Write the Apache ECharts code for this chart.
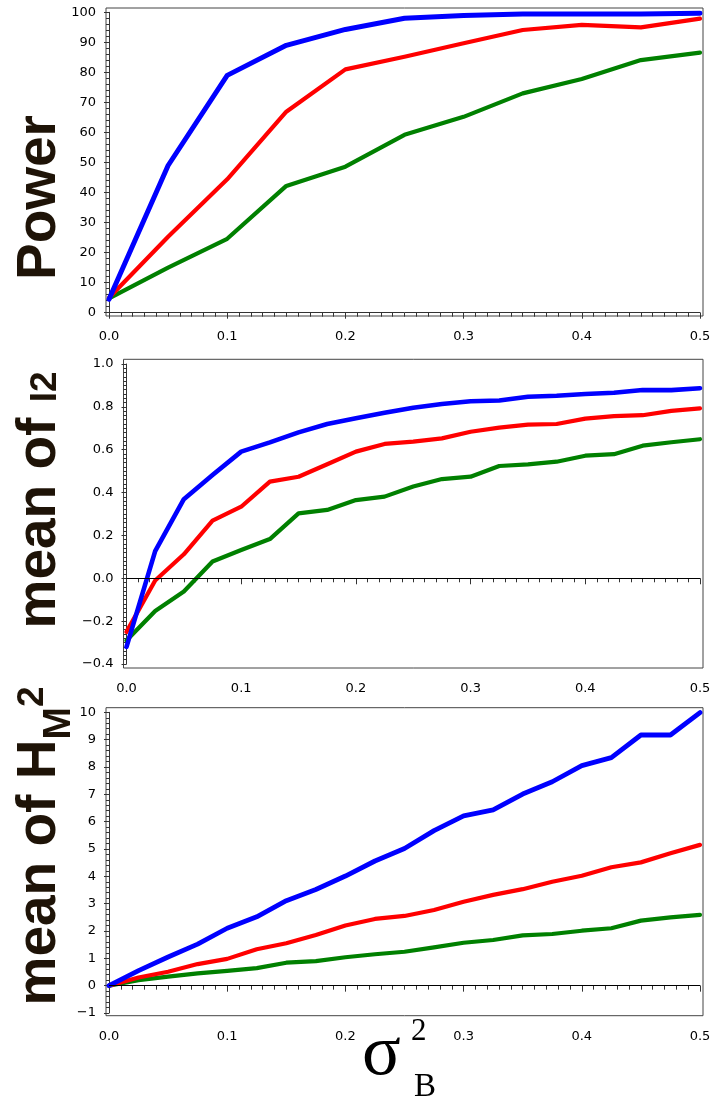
<!DOCTYPE html>
<html><head><meta charset="utf-8">
<script src="https://cdn.jsdelivr.net/npm/echarts@6/dist/echarts.min.js"></script>
<style>html,body{margin:0;padding:0;background:#fff}#c{width:716px;height:1099px}</style>
</head><body><div id="c"></div>
<script>
// ---- data ----
const xCoarse = [0, 0.05, 0.1, 0.15, 0.2, 0.25, 0.3, 0.35, 0.4, 0.45, 0.5];
const powerBlue  = [4.5, 49, 79, 89, 94.3, 98, 98.9, 99.4, 99.4, 99.4, 99.7];
const powerRed   = [5, 25.3, 44.4, 66.9, 81, 85.2, 89.7, 94.1, 95.8, 95, 97.9];
const powerGreen = [4.8, 15, 24.6, 42.2, 48.6, 59.2, 65.2, 73, 77.8, 84.1, 86.6];

const xFine = [0, 0.025, 0.05, 0.075, 0.1, 0.125, 0.15, 0.175, 0.2, 0.225, 0.25,
               0.275, 0.3, 0.325, 0.35, 0.375, 0.4, 0.425, 0.45, 0.475, 0.5];
const i2Blue  = [-0.32, 0.127, 0.369, 0.482, 0.591, 0.634, 0.681, 0.72, 0.747, 0.773, 0.796,
                 0.813, 0.826, 0.83, 0.847, 0.852, 0.86, 0.866, 0.879, 0.878, 0.887];
const i2Red   = [-0.25, -0.01, 0.112, 0.269, 0.334, 0.451, 0.474, 0.532, 0.591, 0.627, 0.638,
                 0.653, 0.684, 0.703, 0.717, 0.72, 0.745, 0.757, 0.761, 0.781, 0.793];
const i2Green = [-0.29, -0.153, -0.062, 0.078, 0.132, 0.183, 0.303, 0.319, 0.365, 0.381, 0.428,
                 0.463, 0.474, 0.524, 0.532, 0.544, 0.572, 0.579, 0.619, 0.635, 0.649];

const hmBlue  = [0, 0.55, 1.05, 1.52, 2.1, 2.52, 3.11, 3.52, 4.01, 4.56, 5.02,
                 5.67, 6.21, 6.43, 7.01, 7.46, 8.05, 8.34, 9.17, 9.17, 9.99];
const hmRed   = [0, 0.3, 0.51, 0.79, 0.98, 1.33, 1.55, 1.85, 2.2, 2.44, 2.55,
                 2.77, 3.07, 3.32, 3.53, 3.8, 4.02, 4.33, 4.51, 4.84, 5.15];
const hmGreen = [0, 0.2, 0.33, 0.45, 0.54, 0.64, 0.84, 0.9, 1.04, 1.15, 1.24,
                 1.4, 1.57, 1.67, 1.84, 1.89, 2.01, 2.1, 2.38, 2.5, 2.59];

const colors = { blue: '#0000ff', red: '#ff0000', green: '#008000' };

// ---- helpers ----
const pair = (xs, ys) => xs.map((x, i) => [x, ys[i]]);
const fmtSigned = (d) => (v) => {
  if (Math.abs(v) < 1e-9) return (0).toFixed(d);
  return (v < 0 ? '\u2212' : '') + Math.abs(v).toFixed(d);
};
const labelFont = { fontFamily: 'DejaVu Sans', fontSize: 13, color: '#000' };
const axisLineStyle = { lineStyle: { color: '#333', width: 1 } };

function xAxisDef(gi, off, margin) {
  return {
    type: 'value', gridIndex: gi, min: 0, max: 0.5, interval: 0.1, offset: off,
    axisLine: { show: true, ...axisLineStyle },
    axisTick: { show: true, inside: false, length: 6, lineStyle: { color: '#333' } },
    minorTick: { show: true, splitNumber: 10, length: 4, lineStyle: { color: '#333' } },
    splitLine: { show: false },
    axisLabel: { ...labelFont, margin, formatter: (v) => v.toFixed(1) }
  };
}
function yAxisDef(gi, min, max, interval, minorSplit, fmt, off) {
  return {
    type: 'value', gridIndex: gi, min, max, interval, offset: off,
    axisLine: { show: true, ...axisLineStyle },
    axisTick: { show: true, inside: false, length: 5, lineStyle: { color: '#333' } },
    minorTick: { show: true, splitNumber: minorSplit, length: 3, lineStyle: { color: '#333' } },
    splitLine: { show: false },
    axisLabel: { ...labelFont, margin: 10, formatter: fmt }
  };
}
function lineSeries(idx, data, color, width, extra) {
  return Object.assign({
    type: 'line', xAxisIndex: idx, yAxisIndex: idx, data, showSymbol: false, symbol: 'none',
    lineStyle: { color, width, join: 'round', cap: 'round' }, itemStyle: { color },
    animation: false, silent: true
  }, extra || {});
}
const zeroLine = {
  silent: true, symbol: 'none', label: { show: false },
  lineStyle: { color: '#000', width: 1, type: 'solid' },
  data: [{ yAxis: 0 }]
};

const titleColor = '#1e1307';
const bigFont = 'bold 55px "Liberation Sans"';
const smallFont = 'bold 37px "Liberation Sans"';
const option = {
  animation: false,
  backgroundColor: '#fff',
  grid: [
    // data grids
    { left: 109, top: 12.3, width: 591, height: 300.4, show: false },
    { left: 126.5, top: 364, width: 573.5, height: 300, show: false },
    { left: 109, top: 712.3, width: 591, height: 300.7, show: false },
    // frame boxes
    { left: 106, top: 8, width: 597, height: 308, show: true, borderColor: '#444', borderWidth: 1, backgroundColor: 'transparent' },
    { left: 123.5, top: 359.3, width: 579.5, height: 308.7, show: true, borderColor: '#444', borderWidth: 1, backgroundColor: 'transparent' },
    { left: 106, top: 707.7, width: 597, height: 308, show: true, borderColor: '#444', borderWidth: 1, backgroundColor: 'transparent' }
  ],
  xAxis: [xAxisDef(0, 3.3, 14), xAxisDef(1, 4, 14), xAxisDef(2, 2.7, 14)],
  yAxis: [
    yAxisDef(0, 0, 100, 10, 5, (v) => String(Math.round(v)), 3),
    yAxisDef(1, -0.4, 1.0, 0.2, 10, fmtSigned(1), 3),
    yAxisDef(2, -1, 10, 1, 5, fmtSigned(0), 3)
  ],
  series: [
    lineSeries(0, pair(xCoarse, powerGreen), colors.green, 4.2),
    lineSeries(0, pair(xCoarse, powerRed), colors.red, 4.2),
    lineSeries(0, pair(xCoarse, powerBlue), colors.blue, 5),
    lineSeries(1, pair(xFine, i2Green), colors.green, 4.2, { markLine: zeroLine }),
    lineSeries(1, pair(xFine, i2Red), colors.red, 4.2),
    lineSeries(1, pair(xFine, i2Blue), colors.blue, 4.6),
    lineSeries(2, pair(xFine, hmGreen), colors.green, 4.2, { markLine: zeroLine }),
    lineSeries(2, pair(xFine, hmRed), colors.red, 4.2),
    lineSeries(2, pair(xFine, hmBlue), colors.blue, 4.8)
  ],
  graphic: [
    { type: 'text', x: 40, y: 197.5, rotation: Math.PI / 2,
      style: { text: 'Power', font: bigFont, fill: titleColor, align: 'center', verticalAlign: 'middle' } },
    { type: 'text', x: 40, y: 500, rotation: Math.PI / 2,
      style: { text: '{a|mean of }{b|I2}', align: 'center', verticalAlign: 'middle', fill: titleColor,
        rich: {
          a: { font: bigFont, fill: titleColor, verticalAlign: 'middle' },
          b: { font: smallFont, fill: titleColor, verticalAlign: 'middle', padding: [11, 0, 0, 0] }
        } } },
    { type: 'text', x: 40, y: 846, rotation: Math.PI / 2,
      style: { text: '{a|mean of H}{sub|M}{sup|2}', align: 'center', verticalAlign: 'middle', fill: titleColor,
        rich: {
          a: { font: bigFont, fill: titleColor, verticalAlign: 'middle' },
          sub: { font: 'bold 39px "Liberation Sans"', fill: titleColor, verticalAlign: 'middle', padding: [39, 0, 0, 0] },
          sup: { font: smallFont, fill: titleColor, verticalAlign: 'middle', padding: [0, 0, 14, 0] }
        } } },
    { type: 'text', x: 362, y: 1055,
      style: { text: '\u03c3', font: '72px "Liberation Serif"', fill: '#000', align: 'left', verticalAlign: 'middle' } },
    { type: 'text', x: 411, y: 1032,
      style: { text: '2', font: '31px "Liberation Serif"', fill: '#000', align: 'left', verticalAlign: 'middle' } },
    { type: 'text', x: 414, y: 1087,
      style: { text: 'B', font: '33px "Liberation Serif"', fill: '#000', align: 'left', verticalAlign: 'middle' } }
  ]
};
const chart = echarts.init(document.getElementById('c'), null, { renderer: 'canvas' });
chart.setOption(option);
</script>
</body></html>
